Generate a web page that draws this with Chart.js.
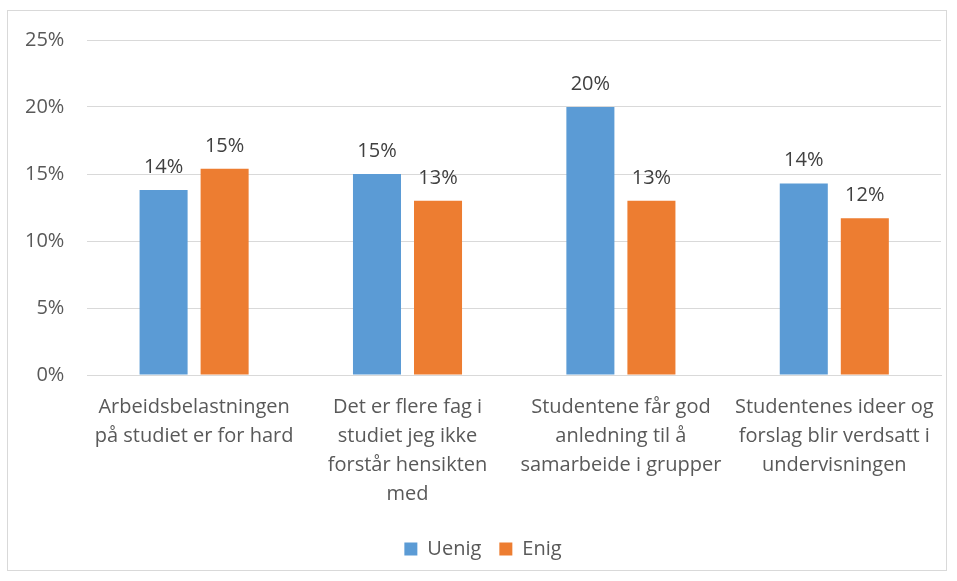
<!DOCTYPE html>
<html>
<head>
<meta charset="UTF-8"/>
<script src="https://cdn.jsdelivr.net/npm/chart.js"></script>
<style>
  body { margin: 0; background: #fff; }
  .frame { position: absolute; left: 7px; top: 10px; width: 938px; height: 559px; border: 1px solid #d9d9d9; }
  canvas { display: block; }
</style>
</head>
<body>
<div class="frame"><canvas id="c" width="938" height="559"></canvas></div>
<script>
const categories = [
  ['Arbeidsbelastningen', 'på studiet er for hard'],
  ['Det er flere fag i', 'studiet jeg ikke', 'forstår hensikten', 'med'],
  ['Studentene får god', 'anledning til å', 'samarbeide i grupper'],
  ['Studentenes ideer og', 'forslag blir verdsatt i', 'undervisningen']
];
const uenig = [13.8, 15.0, 20.0, 14.3];
const enig = [15.4, 13.0, 13.0, 11.7];
const yTicks = [0, 5, 10, 15, 20, 25];

const FONT = "'Open Sans', 'Liberation Sans', sans-serif";
const TXT = '#595959';

// value labels on top of bars
const barLabels = {
  id: 'barLabels',
  afterDatasetsDraw(chart) {
    const ctx = chart.ctx;
    ctx.save();
    ctx.font = '20px ' + FONT;
    ctx.fillStyle = '#404040';
    ctx.textAlign = 'center';
    ctx.textBaseline = 'alphabetic';
    chart.data.datasets.forEach((ds, i) => {
      chart.getDatasetMeta(i).data.forEach((bar, j) => {
        ctx.fillText(Math.round(ds.data[j]) + '%', bar.x, bar.y - 17);
      });
    });
    ctx.restore();
  }
};

new Chart(document.getElementById('c'), {
  type: 'bar',
  data: {
    labels: categories,
    datasets: [
      { label: 'Uenig', data: uenig, backgroundColor: '#5b9bd5' },
      { label: 'Enig', data: enig, backgroundColor: '#ed7d31' }
    ]
  },
  options: {
    responsive: false,
    animation: false,
    layout: { padding: { left: 17, right: 5, top: 29, bottom: 1 } },
    datasets: { bar: { categoryPercentage: 0.572, barPercentage: 0.787 } },
    scales: {
      x: {
        grid: { display: false },
        border: { color: '#d9d9d9' },
        ticks: { color: TXT, font: { family: FONT, size: 20, lineHeight: 1.45 }, maxRotation: 0, padding: 10 },
        afterFit(axis) { axis.height += 2; axis.paddingLeft = 0; axis.paddingRight = 0; }
      },
      y: {
        min: 0, max: 25,
        afterBuildTicks(axis) { axis.ticks = yTicks.map(v => ({ value: v })); },
        grid: { color: '#d9d9d9', drawTicks: false },
        border: { display: false },
        ticks: { color: TXT, font: { family: FONT, size: 20 }, padding: 23, callback: v => v + '%' },
        afterFit(axis) { axis.width -= 23; axis.paddingTop = 0; axis.paddingBottom = 0; }
      }
    },
    plugins: {
      legend: {
        position: 'bottom',
        labels: { color: TXT, font: { family: FONT, size: 20 }, boxWidth: 13, boxHeight: 13, padding: 18 }
      },
      tooltip: { enabled: false }
    }
  },
  plugins: [barLabels]
});
</script>
</body>
</html>
